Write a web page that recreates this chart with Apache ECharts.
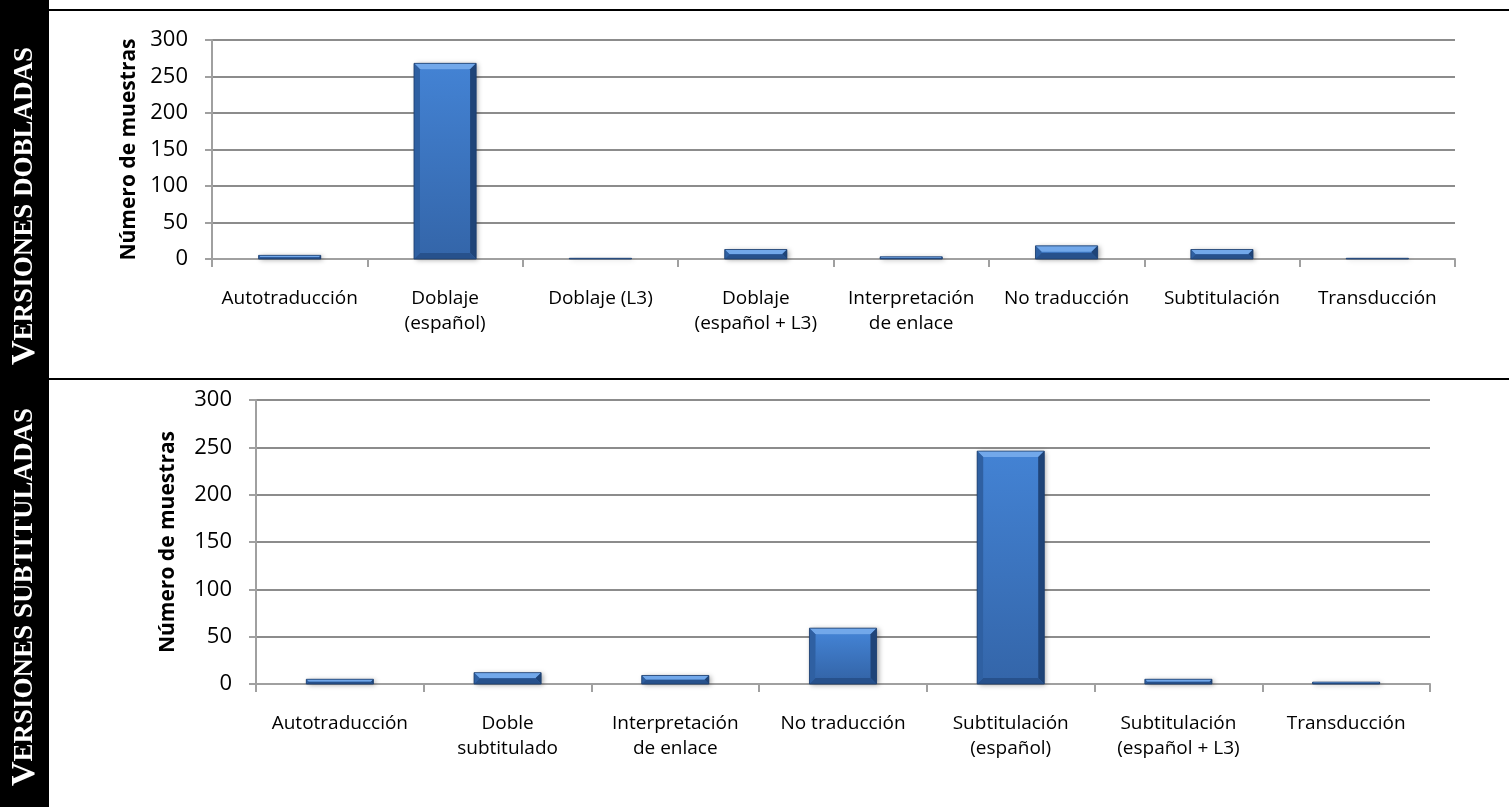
<!DOCTYPE html>
<html>
<head>
<meta charset="utf-8">
<script src="https://cdn.jsdelivr.net/npm/echarts@6/dist/echarts.min.js"></script>
<style>
  html, body { margin: 0; padding: 0; background: #fff; }
  #chart { width: 1509px; height: 807px; }
</style>
</head>
<body>
<div id="chart"></div>
<script>
// Versiones dobladas
const dubCategories = ['Autotraducción', 'Doblaje\n(español)', 'Doblaje (L3)', 'Doblaje\n(español + L3)', 'Interpretación\nde enlace', 'No traducción', 'Subtitulación', 'Transducción'];
const dubValues = [5, 268, 1, 13, 3, 18, 13, 1];

// Versiones subtituladas
const subCategories = ['Autotraducción', 'Doble\nsubtitulado', 'Interpretación\nde enlace', 'No traducción', 'Subtitulación\n(español)', 'Subtitulación\n(español + L3)', 'Transducción'];
const subValues = [5, 12, 9, 59, 246, 5, 2];

const yMin = 0, yMax = 300, yStep = 50;
const yAxisTitle = 'Número de muestras';

const FONT = '"Open Sans", "Liberation Sans", sans-serif';
const SERIF = '"Liberation Serif", "DejaVu Serif", serif';

// Bevelled blue column drawn from the axis scales
function bevelBar(params, api) {
  const idx = api.value(0);
  const val = api.value(1);
  const top = api.coord([idx, val]);
  const base = api.coord([idx, 0]);
  const bw = api.size([1, 0])[0] * 0.4;
  const x = top[0] - bw / 2;
  const y = top[1];
  const h = Math.max(base[1] - top[1], 0.5);
  const b = Math.min(6, h / 2, bw / 2);
  return {
    type: 'group',
    children: [
      {
        type: 'rect',
        shape: { x: x, y: y, width: bw, height: h },
        style: {
          fill: new echarts.graphic.LinearGradient(0, 0, 1, 0, [
            { offset: 0, color: '#3a72bd' },
            { offset: 0.5, color: '#3d79c6' },
            { offset: 1, color: '#3367ad' }
          ]),
          shadowBlur: 5,
          shadowColor: 'rgba(0,0,0,0.35)',
          shadowOffsetX: 2,
          shadowOffsetY: 1
        }
      },
      {
        type: 'rect',
        shape: { x: x + b, y: y + b, width: bw - 2 * b, height: Math.max(h - 2 * b, 0) },
        style: {
          fill: new echarts.graphic.LinearGradient(0, 0, 0, 1, [
            { offset: 0, color: '#4382d3' },
            { offset: 1, color: '#3466aa' }
          ])
        }
      },
      {
        type: 'polygon',
        shape: { points: [[x, y], [x + bw, y], [x + bw - b, y + b], [x + b, y + b]] },
        style: { fill: '#72a8ea' }
      },
      {
        type: 'polygon',
        shape: { points: [[x, y], [x + b, y + b], [x + b, y + h - b], [x, y + h]] },
        style: { fill: '#2f60a2' }
      },
      {
        type: 'polygon',
        shape: { points: [[x + bw, y], [x + bw - b, y + b], [x + bw - b, y + h - b], [x + bw, y + h]] },
        style: { fill: '#1f4478' }
      },
      {
        type: 'polygon',
        shape: { points: [[x, y + h], [x + b, y + h - b], [x + bw - b, y + h - b], [x + bw, y + h]] },
        style: { fill: '#27518c' }
      },
      {
        type: 'rect',
        shape: { x: x, y: y, width: bw, height: h },
        style: { fill: 'none', stroke: '#1d3e6c', lineWidth: 0.8 }
      }
    ]
  };
}

function xAxisFor(gridIndex, cats) {
  return {
    type: 'category',
    gridIndex: gridIndex,
    data: cats,
    boundaryGap: true,
    axisLine: { lineStyle: { color: '#a0a0a0', width: 2 } },
    axisTick: { show: true, length: 8, lineStyle: { color: '#a0a0a0', width: 2 } },
    axisLabel: { color: '#000', fontFamily: FONT, fontSize: 19, lineHeight: 25, margin: 27, interval: 0 },
    splitLine: { show: false }
  };
}

function yAxisFor(gridIndex, gap) {
  return {
    type: 'value',
    gridIndex: gridIndex,
    min: yMin,
    max: yMax,
    interval: yStep,
    name: yAxisTitle,
    nameLocation: 'middle',
    nameRotate: 90,
    nameGap: gap,
    nameTextStyle: { color: '#000', fontFamily: FONT, fontWeight: 'bold', fontSize: 21 },
    axisLine: { show: true, lineStyle: { color: '#a0a0a0', width: 2 } },
    axisTick: { show: true, length: 7, lineStyle: { color: '#a0a0a0', width: 2 } },
    axisLabel: { color: '#000', fontFamily: FONT, fontSize: 22, margin: 24 },
    splitLine: { show: true, lineStyle: { color: '#8c8c8c', width: 2 } }
  };
}

function sideLabel(y, rest) {
  return {
    type: 'text',
    x: 25, y: y,
    rotation: Math.PI / 2,
    z: 11,
    style: {
      text: '{big|V}{small|' + rest + '}',
      align: 'center',
      verticalAlign: 'middle',
      fill: '#fff',
      rich: {
        big: { fontFamily: SERIF, fontWeight: 'bold', fontSize: 34, fill: '#fff' },
        small: { fontFamily: SERIF, fontWeight: 'bold', fontSize: 27, fill: '#fff' }
      }
    }
  };
}

const chart = echarts.init(document.getElementById('chart'), null, { renderer: 'canvas' });

chart.setOption({
  backgroundColor: '#fff',
  animation: false,
  grid: [
    { left: 212, top: 40, width: 1243, height: 219 },
    { left: 256, top: 400, width: 1174, height: 284 }
  ],
  xAxis: [xAxisFor(0, dubCategories), xAxisFor(1, subCategories)],
  yAxis: [yAxisFor(0, 69), yAxisFor(1, 77)],
  series: [
    {
      type: 'custom',
      xAxisIndex: 0,
      yAxisIndex: 0,
      renderItem: bevelBar,
      encode: { x: 0, y: 1 },
      data: dubValues.map((v, i) => [i, v])
    },
    {
      type: 'custom',
      xAxisIndex: 1,
      yAxisIndex: 1,
      renderItem: bevelBar,
      encode: { x: 0, y: 1 },
      data: subValues.map((v, i) => [i, v])
    }
  ],
  graphic: [
    { type: 'rect', left: 0, top: 0, shape: { width: 49, height: 807 }, style: { fill: '#000' }, z: 10 },
    { type: 'rect', left: 49, top: 9, shape: { width: 1460, height: 2 }, style: { fill: '#000' }, z: 10 },
    { type: 'rect', left: 49, top: 378, shape: { width: 1460, height: 2 }, style: { fill: '#000' }, z: 10 },
    sideLabel(206, 'ERSIONES DOBLADAS'),
    sideLabel(597, 'ERSIONES SUBTITULADAS')
  ]
});
</script>
</body>
</html>
